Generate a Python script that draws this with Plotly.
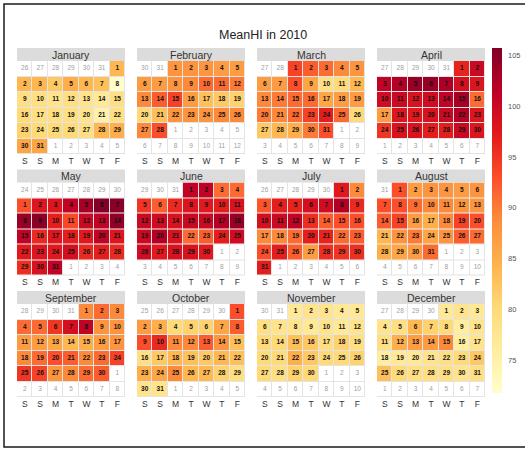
import datetime as dt
import plotly.graph_objects as go

year = 2010
title_text = "MeanHI in 2010"
month_names = ["January", "February", "March", "April", "May", "June",
               "July", "August", "September", "October", "November", "December"]
dow_labels = ["S", "S", "M", "T", "W", "T", "F"]
colorbar_ticks = [75, 80, 85, 90, 95, 100, 105]

jan = [84, 84, 84, 82, 85, 84, 83, 72, 79, 79, 78, 79, 78, 77, 79, 80, 79, 79, 79, 78,
       75, 79, 81, 80, 80, 80, 79, 84, 85, 86, 86]
feb = [88, 88, 88, 87, 87, 87, 87, 88, 89, 91, 91, 90, 89, 92, 94, 87, 83, 82, 81, 80,
       83, 88, 88, 88, 89, 89, 89, 93]
mar = [94, 92, 91, 89, 88, 87, 87, 93, 86, 79, 80, 84, 89, 90, 91, 91, 86, 87, 87, 90,
       89, 91, 94, 97, 91, 80, 82, 84, 85, 90, 93]
apr = [96.5, 100, 101, 102, 104, 104, 102.5, 99, 98, 99.5, 100, 98.5, 99.5, 101, 103, 91,
       87, 98, 97.5, 98.5, 100, 102, 98, 95, 98.5, 98.5, 97, 97, 100, 98]
may = [93, 98, 98, 101, 103, 105.5, 105, 104, 105, 97, 93.5, 100, 101, 104.5, 101, 96,
       98, 97, 97.5, 101, 98, 97.5, 98, 97.5, 99, 96, 97, 96, 95.5, 98.5, 101]
jun = [101, 101, 91, 91, 95, 92, 96, 98, 97.5, 97, 98.5, 100, 99.5, 98.5, 100, 100, 102,
       104, 100, 102, 98.5, 91, 92, 97, 99.5, 99.5, 97.5, 98.5, 98.5, 97.5]
jul = [97.5, 89, 92.5, 97, 96.5, 99, 99.5, 102, 96, 99, 100, 101, 95.5, 92, 93, 93, 89,
       89, 91, 97, 96.5, 91, 92, 93, 97, 92, 87, 95.5, 95, 95.5, 97]
aug = [93, 87, 88, 88, 87, 88, 93, 93, 91, 89, 89, 88, 88, 92, 94, 87, 85, 89, 94, 93,
       84, 88, 90, 86, 88, 92, 91, 85, 86, 87, 91]
sep = [89, 91, 89, 91, 91, 95, 99, 101, 88, 88, 87, 87, 86, 84, 85, 87, 88, 89, 91, 93,
       92, 89, 91, 94, 95, 94, 88, 89, 91, 92]
oct_ = [93, 87, 85, 80, 81, 81, 86, 92, 93, 96, 89, 89, 92, 88, 83, 79, 82, 84, 83, 82,
        84, 83, 85, 86, 89, 84, 84, 81, 79, 78, 78]
nov = [77, 78, 78, 77, 77, 79, 78, 78, 77, 78, 77, 78, 80, 80, 83, 82, 79, 81, 79, 80,
       80, 85, 82, 80, 80, 81, 80, 79, 81, 80]
dec = [77, 78, 77, 78, 79, 84, 81, 80, 76, 78, 79, 85, 87, 87, 89, 76, 78, 76, 77, 77,
       78, 79, 80, 82, 83, 80, 79, 79, 79, 78, 79]
monthly_values = [jan, feb, mar, apr, may, jun, jul, aug, sep, oct_, nov, dec]

W, H = 525, 450
FONT = "Liberation Sans, Arial, Helvetica, sans-serif"
ylorrd = ["#ffffcc", "#ffeda0", "#fed976", "#feb24c", "#fd8d3c",
          "#fc4e2a", "#e31a1c", "#bd0026", "#800026"]
colorscale = [[i / 8, c] for i, c in enumerate(ylorrd)]


def fx(x):
    return x / W


def fy(y):
    return 1 - y / H


fig = go.Figure()
shapes = []
annotations = []
layout_axes = {}

for m in range(12):
    r, c = divmod(m, 4)
    left = 17 + 120 * c
    right = left + 108
    top = 61 + 121.5 * r
    bottom = top + 93
    suffix = "" if m == 0 else str(m + 1)
    first = dt.date(year, m + 1, 1)
    offset = (first.weekday() - 5) % 7
    if offset == 0:
        offset = 7
    start = first - dt.timedelta(days=offset)

    z = [[None] * 7 for _ in range(6)]
    xs, ys, texts, tcolors = [], [], [], []
    for i in range(42):
        d = start + dt.timedelta(days=i)
        rr, cc = divmod(i, 7)
        xs.append(cc)
        ys.append(rr)
        if d.month == m + 1:
            z[rr][cc] = monthly_values[m][d.day - 1]
            texts.append(f"<b>{d.day}</b>")
            tcolors.append("#111111")
        else:
            texts.append(str(d.day))
            tcolors.append("#a0a0a0")

    xa, ya = "x" + suffix, "y" + suffix
    fig.add_trace(go.Heatmap(
        z=[[0] * 7 for _ in range(6)], x=list(range(7)), y=list(range(6)),
        colorscale=[[0, "white"], [1, "white"]], showscale=False,
        xgap=1, ygap=1, hoverinfo="skip", xaxis=xa, yaxis=ya))
    fig.add_trace(go.Heatmap(
        z=z, x=list(range(7)), y=list(range(6)), coloraxis="coloraxis",
        xgap=1, ygap=1, xaxis=xa, yaxis=ya,
        hovertemplate=month_names[m] + " %{z}<extra></extra>"))
    fig.add_trace(go.Scatter(
        x=xs, y=ys, mode="text", text=texts,
        textfont=dict(size=6.5, color=tcolors, family=FONT),
        hoverinfo="skip", showlegend=False, xaxis=xa, yaxis=ya))

    layout_axes["xaxis" + suffix] = dict(
        domain=[fx(left), fx(right)], range=[-0.5, 6.5], anchor=ya,
        showgrid=False, zeroline=False, showline=False, ticks="",
        tickvals=list(range(7)), ticktext=dow_labels,
        tickfont=dict(size=8.5, color="#333333", family=FONT), fixedrange=True)
    layout_axes["yaxis" + suffix] = dict(
        domain=[fy(bottom), fy(top)], range=[5.5, -0.5], anchor=xa,
        visible=False, fixedrange=True)

    shapes.append(dict(type="rect", xref="paper", yref="paper",
                       x0=fx(left), x1=fx(right), y0=fy(top), y1=fy(top - 13),
                       fillcolor="#dcdcdc", line=dict(width=0), layer="below"))
    annotations.append(dict(text=month_names[m], xref="paper", yref="paper",
                            x=fx((left + right) / 2), y=fy(top - 6.5),
                            xanchor="center", yanchor="middle", showarrow=False,
                            font=dict(size=10.5, color="#333333", family=FONT)))

annotations.append(dict(text=title_text, xref="paper", yref="paper",
                        x=fx(263), y=fy(35), xanchor="center", yanchor="middle",
                        showarrow=False,
                        font=dict(size=12.5, color="#222222", family=FONT)))

shapes.append(dict(type="rect", xref="paper", yref="paper",
                   x0=fx(4), x1=fx(540), y0=fy(447), y1=fy(4),
                   line=dict(color="#1a1a1a", width=1.5), fillcolor="rgba(0,0,0,0)"))

fig.update_layout(
    width=W, height=H,
    margin=dict(l=0, r=0, t=0, b=0),
    paper_bgcolor="white", plot_bgcolor="#e4e4e4",
    showlegend=False,
    font=dict(family=FONT),
    shapes=shapes, annotations=annotations,
    coloraxis=dict(
        colorscale=colorscale, cmin=71.8, cmax=105.7,
        colorbar=dict(
            x=fx(492), xanchor="left", xpad=0, ypad=0,
            y=fy((48 + 393) / 2), yanchor="middle",
            len=(393 - 48) / H, lenmode="fraction",
            thickness=10, outlinewidth=0,
            tickvals=colorbar_ticks, ticks="outside", ticklen=5,
            tickcolor="rgba(0,0,0,0)",
            tickfont=dict(size=7.5, color="#555555", family=FONT))),
    **layout_axes)

fig.write_html("out.html", config={"displayModeBar": False},
               post_script="document.body.style.margin='0';")
